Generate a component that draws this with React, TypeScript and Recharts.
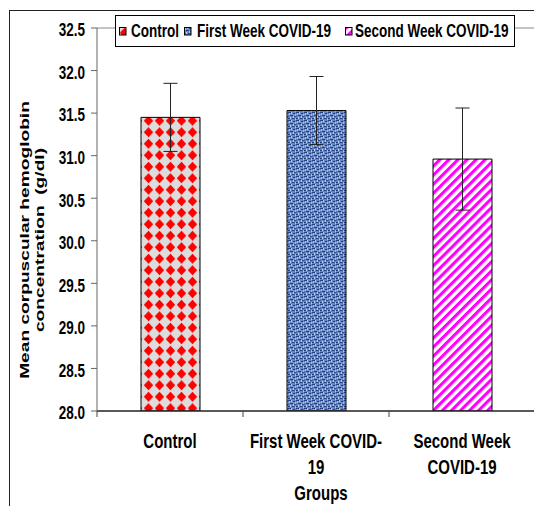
import React from "react";
import { BarChart, Bar, Cell, XAxis, YAxis, ErrorBar, ReferenceLine, Legend } from "recharts";

const CATEGORIES = ["Control", "First Week COVID-19", "Second Week COVID-19"];
const MEANS = [31.45, 31.53, 30.96];
const SDS = [0.4, 0.4, 0.6];
const Y_TICKS = [28.0, 28.5, 29.0, 29.5, 30.0, 30.5, 31.0, 31.5, 32.0, 32.5];
const TICK_LINES = [["Control"], ["First Week COVID-", "19"], ["Second Week", "COVID-19"]];
const PATTERNS = ["pat-control", "pat-week1", "pat-week2"];

const data = CATEGORIES.map((name, i) => ({ name, mean: MEANS[i], sd: SDS[i] }));

const FONT = '"Liberation Sans", Arial, sans-serif';
const STRETCH = 1.38;

// denim-ish speckles for the first-week bar: [x, y, w, h, colour]
const DENIM: [number, number, number, number, string][] = [
  [0, 0, 3, 1, "#24407c"],
  [5, 1, 2, 1, "#2b4885"],
  [2, 3, 3, 1, "#24407c"],
  [6, 4, 2, 1, "#2b4885"],
  [0, 6, 2, 1, "#24407c"],
  [4, 6, 3, 1, "#2b4885"],
  [3, 0, 1, 2, "#b5ccf2"],
  [7, 2, 1, 2, "#aac3ee"],
  [1, 1, 1, 2, "#aac3ee"],
  [5, 4, 1, 2, "#b5ccf2"],
  [2, 5, 1, 2, "#c2d6f6"],
  [7, 6, 1, 2, "#aac3ee"],
  [0, 4, 1, 1, "#3d5c9c"],
  [4, 2, 1, 1, "#8eaee2"],
];

function Patterns() {
  return (
    <defs>
      <pattern id="pat-control" width={11} height={11.5} patternUnits="userSpaceOnUse">
        <rect width={11} height={11.5} fill="#dcdcdc" />
        <polygon points="5.5,0.8 10.2,5.75 5.5,10.7 0.8,5.75" fill="#ff0000" />
      </pattern>
      <pattern id="pat-week1" width={8} height={8} patternUnits="userSpaceOnUse">
        <rect width={8} height={8} fill="#6686c3" />
        {DENIM.map(([x, y, w, h, c], i) => (
          <rect key={i} x={x} y={y} width={w} height={h} fill={c} />
        ))}
      </pattern>
      <pattern id="pat-week2" width={6.4} height={6.4} patternUnits="userSpaceOnUse" patternTransform="rotate(45)">
        <rect width={6.4} height={6.4} fill="#ffffff" />
        <rect width={3.1} height={6.4} fill="#ff00ff" />
      </pattern>
    </defs>
  );
}

function YTick(props: any) {
  const { x, y, payload } = props;
  return (
    <g transform={`translate(${x},${y + 2}) scale(1,${STRETCH})`}>
      <text textAnchor="end" y={4.6} fontSize={13.5} fontWeight={700} fontFamily={FONT} fill="#000">
        {Number(payload.value).toFixed(1)}
      </text>
    </g>
  );
}

function XTick(props: any) {
  const { x, y, payload } = props;
  const half = payload?.offset ?? 73;
  const idx = CATEGORIES.indexOf(payload.value);
  const lines = TICK_LINES[idx] || [String(payload.value)];
  const axisY = y - 6;
  return (
    <g>
      <line x1={x - half} x2={x - half} y1={axisY} y2={axisY + 6} stroke="#444" />
      <g transform={`translate(${x},${axisY}) scale(1,1.4)`}>
        <text textAnchor="middle" fontSize={15} fontWeight={700} fontFamily={FONT} fill="#000">
          {lines.map((l, i) => (
            <tspan key={i} x={0} y={26.7 + i * 18.2}>
              {l}
            </tspan>
          ))}
        </text>
      </g>
    </g>
  );
}

function YTitle() {
  return (
    <g transform={`translate(32,240) rotate(-90) scale(1.42,1)`}>
      <text textAnchor="middle" fontSize={13.5} fontWeight={700} fontFamily={FONT} fill="#000" style={{ whiteSpace: "pre" }}>
        <tspan x={0} y={-3.5}>Mean corpuscular hemoglobin</tspan>
        <tspan x={0} y={12.5}>concentration  (g/dl)</tspan>
      </text>
    </g>
  );
}

function XTitle() {
  return (
    <g transform={`translate(321,493) scale(1,1.4)`}>
      <text textAnchor="middle" y={5.3} fontSize={15} fontWeight={700} fontFamily={FONT} fill="#000">
        Groups
      </text>
    </g>
  );
}

const LEGEND_SWATCH_X = [4, 69, 230];
const LEGEND_TEXT_X = [16, 82, 240];

function LegendBox() {
  return (
    <div
      style={{
        position: "relative",
        boxSizing: "border-box",
        width: 400,
        height: 32,
        border: "1px solid #000",
        background: "#fff",
        fontFamily: FONT,
        fontWeight: 700,
        fontSize: 13.5,
        color: "#000",
      }}
    >
      {CATEGORIES.map((c, i) => (
        <React.Fragment key={c}>
          <svg width={8} height={9} style={{ position: "absolute", left: LEGEND_SWATCH_X[i] - 1, top: 11 }}>
            <rect x={0.5} y={0.5} width={6.5} height={7.5} fill={`url(#${PATTERNS[i]})`} stroke="#000" strokeWidth={1} />
          </svg>
          <span
            style={{
              position: "absolute",
              left: LEGEND_TEXT_X[i] - 1,
              top: 7,
              lineHeight: "16px",
              whiteSpace: "nowrap",
              transform: `scaleY(${STRETCH})`,
            }}
          >
            {c}
          </span>
        </React.Fragment>
      ))}
    </div>
  );
}

export default function App() {
  return (
    <div style={{ position: "absolute", left: 0, top: 0, width: 534, height: 506, overflow: "hidden", background: "#fff" }}>
      <div
        style={{
          position: "absolute",
          left: 9,
          top: 10,
          width: 600,
          height: 600,
          borderTop: "1.5px solid #222",
          borderLeft: "1.5px solid #222",
        }}
      />
      <BarChart width={540} height={506} data={data} margin={{ top: 28, right: 5, bottom: 0, left: 0 }}>
        <Patterns />
        <ReferenceLine y={32.5} stroke="#888" strokeWidth={1} ifOverflow="extendDomain" />
        <XAxis
          dataKey="name"
          height={95}
          interval={0}
          tickLine={false}
          tickSize={6}
          tickMargin={0}
          axisLine={{ stroke: "#222", strokeWidth: 1.5 }}
          tick={<XTick />}
          label={{ content: () => <XTitle /> }}
        />
        <YAxis
          width={97}
          domain={[28, 32.5]}
          ticks={Y_TICKS}
          interval={0}
          allowDataOverflow
          tickSize={6}
          tickMargin={6}
          tickLine={{ stroke: "#666" }}
          axisLine={{ stroke: "#666" }}
          tick={<YTick />}
          label={{ content: () => <YTitle /> }}
        />
        <Legend
          layout="horizontal"
          verticalAlign="middle"
          align="center"
          content={() => <LegendBox />}
          wrapperStyle={{ left: 115, top: 15, width: 400, height: 32 }}
        />
        <Bar dataKey="mean" barSize={59} stroke="#000" strokeWidth={1} isAnimationActive={false}>
          {data.map((d, i) => (
            <Cell key={d.name} fill={`url(#${PATTERNS[i]})`} />
          ))}
          <ErrorBar dataKey="sd" width={7} stroke="#222" strokeWidth={1} isAnimationActive={false} />
        </Bar>
      </BarChart>
    </div>
  );
}
